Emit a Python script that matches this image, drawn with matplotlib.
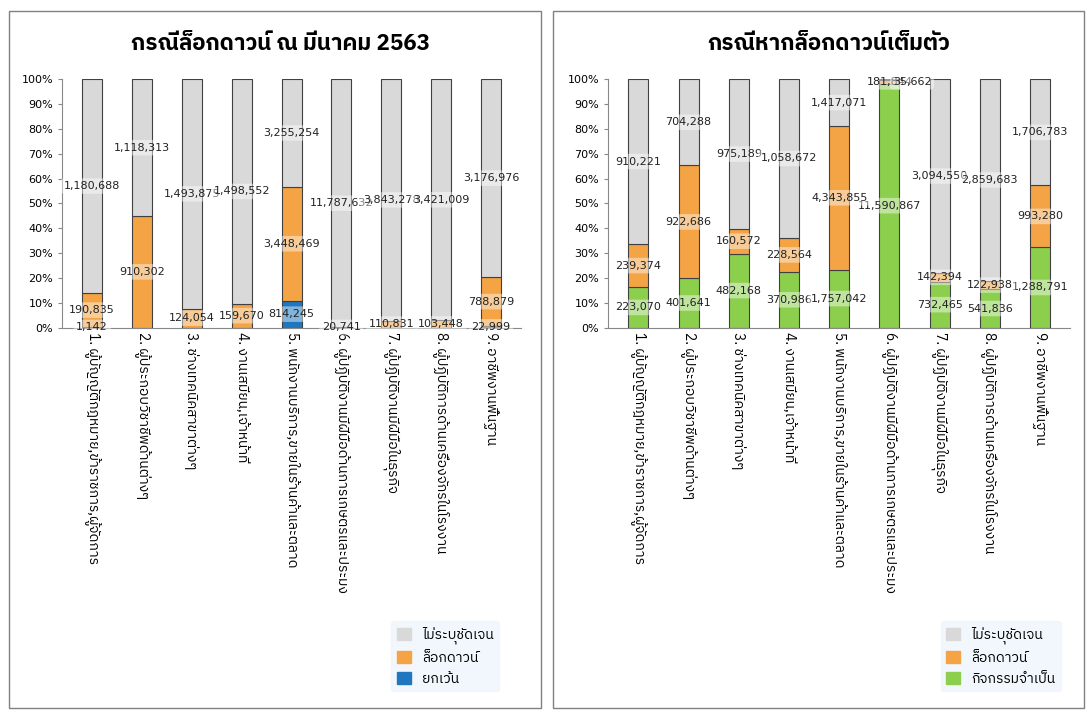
import numpy as np
import matplotlib
matplotlib.use("Agg")
import matplotlib.pyplot as plt
from matplotlib import font_manager
from matplotlib.ft2font import FT2Font
from matplotlib.patches import Rectangle

# find a font with Thai glyphs, prefer a sans one
thai_fonts = []
for f in font_manager.fontManager.ttflist:
    try:
        if 0x0E01 in FT2Font(f.fname).get_charmap():
            thai_fonts.append(f.name)
    except Exception:
        pass
thai_fonts.sort(key=lambda n: 0 if ("Sans" in n or n in ("Loma", "Garuda", "Kinnari")) and "Serif" not in n else 1)
if thai_fonts:
    plt.rcParams["font.family"] = [thai_fonts[0], "DejaVu Sans"]

categories = [
    "1. ผู้บัญญัติกฎหมาย,ข้าราชการ,ผู้จัดการ",
    "2. ผู้ประกอบวิชาชีพด้านต่างๆ",
    "3. ช่างเทคนิคสาขาต่างๆ",
    "4. งานเสมียน,เจ้าหน้าที่",
    "5. พนักงานบริการ,ขายในร้านค้าและตลาด",
    "6. ผู้ปฏิบัติงานมีฝีมือด้านการเกษตรและประมง",
    "7. ผู้ปฏิบัติงานมีฝีมือในธุรกิจ",
    "8. ผู้ปฏิบัติการด้านเครื่องจักรในโรงงาน",
    "9. อาชีพงานพื้นฐาน",
]

# left: lockdown March 2563
left_exempt = [1142, 0, 0, 0, 814245, 0, 0, 0, 22999]
left_lock = [190835, 910302, 124054, 159670, 3448469, 20741, 110831, 103448, 788879]
left_unspec = [1180688, 1118313, 1493875, 1498552, 3255254, 11787632, 3843278, 3421009, 3176976]

# right: full lockdown
right_essential = [223070, 401641, 482168, 370986, 1757042, 11590867, 732465, 541836, 1288791]
right_lock = [239374, 922686, 160572, 228564, 4343855, 181844, 142394, 122938, 993280]
right_unspec = [910221, 704288, 975189, 1058672, 1417071, 35662, 3094550, 2859683, 1706783]

GRAY = "#d9d9d9"
ORANGE = "#f4a444"
BLUE = "#1f77c0"
GREEN = "#8ccf4d"

fig = plt.figure(figsize=(10.92, 7.2), dpi=100)

for x0 in (0.008, 0.506):
    fig.add_artist(Rectangle((x0, 0.017), 0.487, 0.968, transform=fig.transFigure,
                             fill=False, edgecolor="#808080", lw=1))


def draw(ax, series, colors, names, title, legend_x):
    vals = np.array(series, dtype=float)
    tot = vals.sum(axis=0)
    pct = vals / tot * 100
    x = np.arange(len(categories))
    bottom = np.zeros(len(categories))
    for s in range(len(series)):
        ax.bar(x, pct[s], 0.4, bottom=bottom, color=colors[s], edgecolor="#404040", lw=0.8)
        for i in range(len(categories)):
            v = vals[s][i]
            if v == 0:
                bottom[i] += pct[s][i]
                continue
            y = bottom[i] + pct[s][i] / 2
            xx = x[i]
            # tiny top segment: push label beside the bar
            if s == len(series) - 1 and pct[s][i] < 2:
                xx, y = x[i] + 0.45, 99
            ax.text(xx, y, f"{int(v):,}", ha="center", va="center", fontsize=8,
                    color="#222222", family="DejaVu Sans",
                    bbox=dict(boxstyle="round,pad=0.25", fc="white", ec="none", alpha=0.45))
        bottom += pct[s]
    ax.set_ylim(0, 100)
    ax.set_xlim(-0.6, len(categories) - 0.4)
    ax.set_yticks(np.arange(0, 101, 10))
    ax.set_yticklabels([f"{v}%" for v in range(0, 101, 10)], fontsize=8, family="DejaVu Sans")
    ax.set_xticks(x)
    ax.set_xticklabels(categories, rotation=270, fontsize=10, va="top", ha="center")
    for sp in ("top", "right"):
        ax.spines[sp].set_visible(False)
    ax.spines["left"].set_color("#888888")
    ax.spines["bottom"].set_color("#888888")
    ax.tick_params(axis="y", length=3, color="#888888")
    ax.tick_params(axis="x", length=0)
    ax.grid(False)
    fig.text((ax.get_position().x0 + ax.get_position().x1) / 2 - 0.01, 0.94, title,
             ha="center", va="center", fontsize=16, fontweight="bold")
    handles = [Rectangle((0, 0), 1, 1, color=colors[s]) for s in (2, 1, 0)]
    leg = fig.legend(handles, [names[s] for s in (2, 1, 0)], loc="lower left",
                     bbox_to_anchor=(legend_x, 0.03), fontsize=10, frameon=True,
                     handlelength=1.0, handleheight=1.0)
    leg.get_frame().set_facecolor("#eef6fc")
    leg.get_frame().set_edgecolor("#eef6fc")


ax1 = fig.add_axes([0.057, 0.545, 0.42, 0.345])
draw(ax1, [left_exempt, left_lock, left_unspec], [BLUE, ORANGE, GRAY],
     ["ยกเว้น", "ล็อกดาวน์", "ไม่ระบุชัดเจน"], "กรณีล็อกดาวน์ ณ มีนาคม 2563", 0.352)

ax2 = fig.add_axes([0.557, 0.545, 0.423, 0.345])
draw(ax2, [right_essential, right_lock, right_unspec], [GREEN, ORANGE, GRAY],
     ["กิจกรรมจำเป็น", "ล็อกดาวน์", "ไม่ระบุชัดเจน"], "กรณีหากล็อกดาวน์เต็มตัว", 0.855)

fig.savefig("out.png", dpi=100)
